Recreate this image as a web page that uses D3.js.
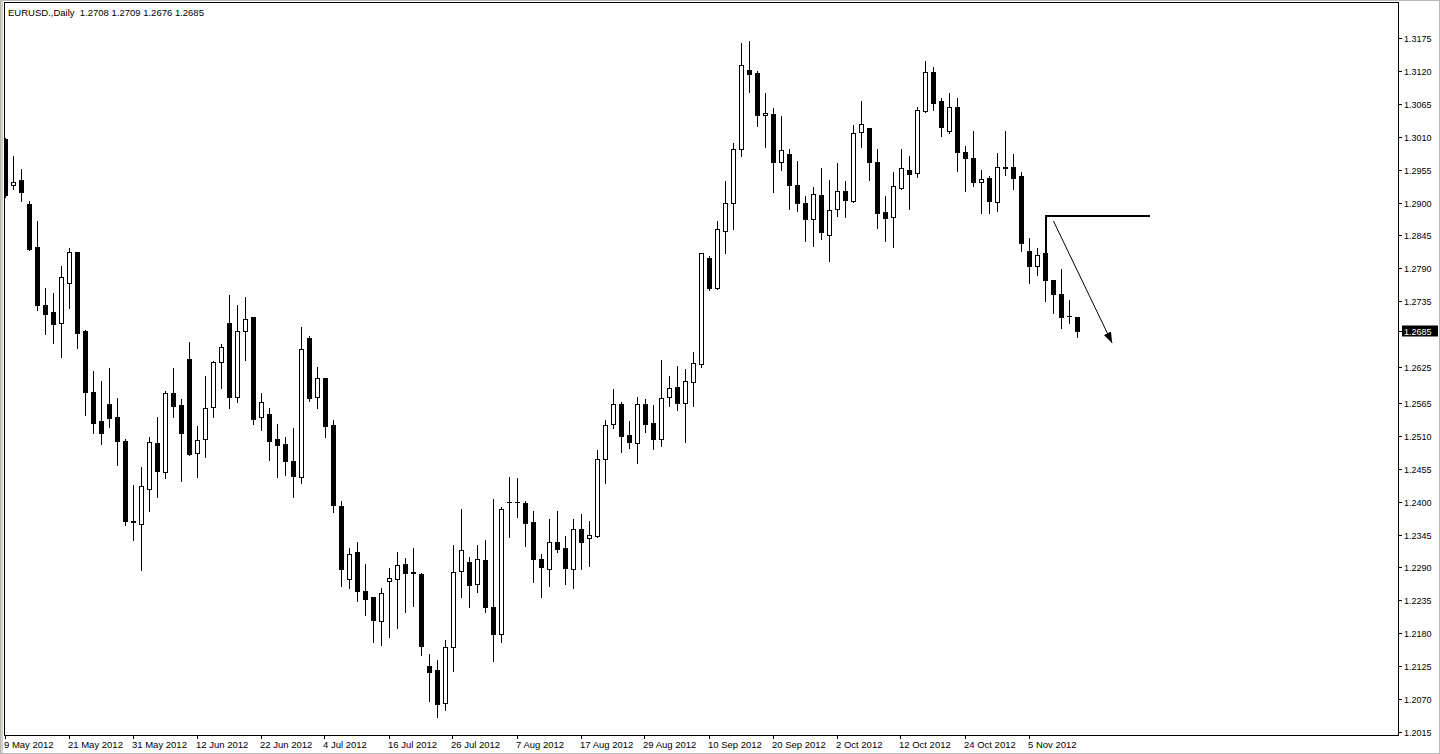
<!DOCTYPE html>
<html><head><meta charset="utf-8">
<script src="https://cdn.jsdelivr.net/npm/d3@7"></script>
<style>html,body{margin:0;padding:0;background:#fff;overflow:hidden}svg{display:block}</style>
</head><body>
<svg id="c" width="1440" height="754"></svg>
<script>
// ---------- data ----------
const titleText = "EURUSD.,Daily  1.2708 1.2709 1.2676 1.2685";
const opens = [1.3006,1.2929,1.2938,1.2898,1.2826,1.2729,1.2717,1.2698,1.2766,1.2817,
1.2686,1.2583,1.2535,1.2564,1.2542,1.2501,1.2367,1.2363,1.2421,1.2498,
1.2450,1.2581,1.2561,1.2638,1.2482,1.2504,1.2558,1.2633,1.2699,1.2575,
1.2685,1.2709,1.2541,1.2547,1.2505,1.2496,1.2468,1.2442,1.2674,1.2575,
1.2606,1.2528,1.2392,1.2271,1.2316,1.2251,1.2241,1.2201,1.2267,1.2271,
1.2296,1.2282,1.2279,1.2125,1.2119,1.2063,1.2157,1.2284,1.2299,1.2262,
1.2303,1.2224,1.2179,1.2400,1.2400,1.2397,1.2366,1.2304,1.2288,1.2332,
1.2322,1.2288,1.2354,1.2339,1.2343,1.2472,1.2529,1.2563,1.2511,1.2498,
1.2564,1.2531,1.2505,1.2575,1.2592,1.2565,1.2600,1.2630,1.2807,1.2757,
1.2852,1.2899,1.2989,1.3122,1.3117,1.3046,1.3048,1.2967,1.2981,1.2929,
1.2899,1.2872,1.2913,1.2845,1.2889,1.2919,1.2903,1.3018,1.3024,1.2968,
1.2884,1.2875,1.2925,1.2954,1.2949,1.3053,1.3118,1.3070,1.3020,1.3059,
1.2984,1.2974,1.2934,1.2941,1.2901,1.2959,1.2959,1.2944,1.2819,1.2794,
1.2816,1.2770,1.2747,1.2711,1.2708];
const highs = [1.3010,1.2979,1.2957,1.2904,1.2870,1.2759,1.2750,1.2796,1.2826,1.2819,
1.2689,1.2620,1.2603,1.2625,1.2575,1.2506,1.2429,1.2460,1.2510,1.2544,
1.2587,1.2625,1.2574,1.2669,1.2528,1.2612,1.2637,1.2666,1.2747,1.2730,
1.2744,1.2709,1.2584,1.2559,1.2531,1.2509,1.2525,1.2694,1.2679,1.2627,
1.2606,1.2538,1.2402,1.2325,1.2334,1.2298,1.2241,1.2258,1.2290,1.2318,
1.2308,1.2325,1.2283,1.2147,1.2137,1.2170,1.2330,1.2389,1.2310,1.2329,
1.2337,1.2406,1.2393,1.2443,1.2442,1.2403,1.2386,1.2315,1.2372,1.2386,
1.2344,1.2372,1.2381,1.2369,1.2488,1.2538,1.2590,1.2568,1.2536,1.2577,
1.2573,1.2563,1.2638,1.2612,1.2628,1.2624,1.2651,1.2818,1.2812,1.2871,
1.2938,1.3002,1.3169,1.3172,1.3122,1.3085,1.3060,1.3046,1.2991,1.2971,
1.2913,1.2928,1.2960,1.2939,1.2968,1.2938,1.3031,1.3071,1.3024,1.2991,
1.2913,1.2953,1.2991,1.2979,1.3061,1.3139,1.3128,1.3076,1.3084,1.3076,
1.2996,1.3022,1.2956,1.2946,1.2984,1.3021,1.2982,1.2952,1.2843,1.2826,
1.2816,1.2770,1.2790,1.2738,1.2709];
const lows = [1.2909,1.2923,1.2903,1.2821,1.2720,1.2680,1.2666,1.2641,1.2724,1.2657,
1.2545,1.2515,1.2496,1.2524,1.2461,1.2361,1.2336,1.2286,1.2385,1.2408,
1.2440,1.2541,1.2435,1.2478,1.2442,1.2474,1.2541,1.2590,1.2556,1.2567,
1.2637,1.2530,1.2519,1.2470,1.2441,1.2445,1.2407,1.2432,1.2569,1.2557,
1.2508,1.2383,1.2259,1.2255,1.2234,1.2211,1.2165,1.2160,1.2174,1.2188,
1.2216,1.2226,1.2144,1.2067,1.2040,1.2052,1.2117,1.2241,1.2224,1.2249,
1.2216,1.2133,1.2166,1.2341,1.2375,1.2326,1.2266,1.2241,1.2259,1.2316,
1.2263,1.2255,1.2288,1.2293,1.2341,1.2431,1.2523,1.2483,1.2489,1.2465,
1.2517,1.2488,1.2493,1.2560,1.2554,1.2500,1.2560,1.2625,1.2754,1.2755,
1.2815,1.2856,1.2978,1.3084,1.3028,1.2992,1.2918,1.2954,1.2890,1.2886,
1.2836,1.2828,1.2839,1.2803,1.2878,1.2876,1.2901,1.2993,1.2938,1.2858,
1.2835,1.2825,1.2922,1.2890,1.2942,1.3052,1.3055,1.3012,1.3016,1.2952,
1.2920,1.2928,1.2882,1.2883,1.2885,1.2946,1.2923,1.2819,1.2766,1.2779,
1.2736,1.2716,1.2690,1.2698,1.2676];
const closes = [1.2913,1.2935,1.2918,1.2822,1.2728,1.2714,1.2697,1.2776,1.2817,1.2682,
1.2584,1.2532,1.2514,1.2540,1.2502,1.2367,1.2366,1.2427,1.2499,1.2452,
1.2581,1.2560,1.2515,1.2480,1.2503,1.2556,1.2633,1.2658,1.2575,1.2685,
1.2706,1.2539,1.2566,1.2502,1.2494,1.2468,1.2443,1.2655,1.2574,1.2606,
1.2527,1.2394,1.2287,1.2313,1.2250,1.2238,1.2203,1.2247,1.2272,1.2294,
1.2281,1.2281,1.2159,1.2115,1.2061,1.2157,1.2282,1.2319,1.2260,1.2304,
1.2224,1.2179,1.2387,1.2399,1.2399,1.2364,1.2305,1.2290,1.2332,1.2321,
1.2289,1.2354,1.2332,1.2345,1.2471,1.2528,1.2564,1.2510,1.2499,1.2563,
1.2529,1.2505,1.2573,1.2590,1.2565,1.2601,1.2631,1.2816,1.2757,1.2856,
1.2899,1.2989,1.3130,1.3115,1.3047,1.3049,1.2968,1.2988,1.2930,1.2900,
1.2873,1.2914,1.2850,1.2887,1.2919,1.2905,1.3017,1.3031,1.2967,1.2883,
1.2874,1.2928,1.2958,1.2947,1.3055,1.3119,1.3066,1.3027,1.3060,1.2985,
1.2974,1.2934,1.2939,1.2903,1.2959,1.2958,1.2941,1.2833,1.2794,1.2813,
1.2770,1.2747,1.2709,1.2710,1.2685];
const dateLabels = ["9 May 2012","21 May 2012","31 May 2012","12 Jun 2012","22 Jun 2012","4 Jul 2012",
"16 Jul 2012","26 Jul 2012","7 Aug 2012","17 Aug 2012","29 Aug 2012","10 Sep 2012","20 Sep 2012",
"2 Oct 2012","12 Oct 2012","24 Oct 2012","5 Nov 2012"];
const barsPerDateLabel = 8;
const priceTicks = [1.3175,1.3120,1.3065,1.3010,1.2955,1.2900,1.2845,1.2790,1.2735,1.2625,1.2565,
1.2510,1.2455,1.2400,1.2345,1.2290,1.2235,1.2180,1.2125,1.2070,1.2015];
const currentPrice = 1.2685;
// hand-drawn objects on the chart (bar index, price)
const levelLine = [[130,1.2816],[130,1.2878],[143,1.2878]];
const arrowLine = [[131,1.2869],[138.33,1.2665]];

// ---------- drawing ----------
const svg = d3.select('#c');
const FONT = "'Liberation Sans', Arial, sans-serif";
const n = opens.length;
const frame = {l:4, t:2, r:1398, b:735};
const x = d3.scaleLinear().domain([0, n-1]).range([5.5, 5.5 + 8*(n-1)]);
const y = d3.scaleLinear().domain([1.2015, 1.3175]).range([732, 38]);
const py = v => Math.round(y(v)) + 0.5;

// outer window edge
svg.append('rect').attr('x',0.5).attr('y',0.5).attr('width',1439).attr('height',753)
  .attr('fill','#fff').attr('stroke','#b8b8b8');
svg.append('rect').attr('x',1).attr('y',1).attr('width',2).attr('height',752).attr('fill','#d4d0c8');

const defs = svg.append('defs');
defs.append('clipPath').attr('id','plotclip').append('rect')
  .attr('x',frame.l+1).attr('y',frame.t+1).attr('width',frame.r-frame.l-1).attr('height',frame.b-frame.t-1);
defs.append('marker').attr('id','arrowhead').attr('markerUnits','userSpaceOnUse')
  .attr('markerWidth',12).attr('markerHeight',10).attr('refX',11).attr('refY',4)
  .attr('orient','auto').append('path').attr('d','M0,0 L11,4 L0,8 Z').attr('fill','#000');

const plot = svg.append('g').attr('clip-path','url(#plotclip)');
const data = d3.range(n).map(i => ({i, o:opens[i], h:highs[i], l:lows[i], c:closes[i]}));

const g = plot.append('g').attr('shape-rendering','crispEdges');
g.selectAll('line.wick').data(data).join('line').attr('class','wick')
  .attr('x1',d=>x(d.i)).attr('x2',d=>x(d.i))
  .attr('y1',d=>py(d.h)).attr('y2',d=>py(d.l)+0.5)
  .attr('stroke','#000').attr('stroke-width',1);
g.selectAll('rect.body').data(data).join('rect').attr('class','body')
  .attr('x',d=>x(d.i)-2).attr('width',4)
  .attr('y',d=>py(Math.max(d.o,d.c)))
  .attr('height',d=>Math.max(0.01, Math.round(y(Math.min(d.o,d.c))) - Math.round(y(Math.max(d.o,d.c)))))
  .attr('fill',d=>d.c>d.o ? '#fff' : '#000')
  .attr('stroke','#000').attr('stroke-width',1);

// drawn objects
const lineGen = d3.line().x(d=>x(d[0])).y(d=>y(d[1]));
plot.append('path').attr('d',lineGen(levelLine)).attr('fill','none')
  .attr('stroke','#000').attr('stroke-width',2).attr('shape-rendering','crispEdges');
plot.append('path').attr('d',lineGen(arrowLine)).attr('fill','none')
  .attr('stroke','#000').attr('stroke-width',1).attr('marker-end','url(#arrowhead)');

// chart frame
svg.append('rect').attr('x',frame.l+0.5).attr('y',frame.t+0.5)
  .attr('width',frame.r-frame.l).attr('height',frame.b-frame.t)
  .attr('fill','none').attr('stroke','#000').attr('shape-rendering','crispEdges');

// title
svg.append('text').attr('x',8).attr('y',16).attr('font-family',FONT).attr('font-size',9.5)
  .attr('fill','#000').attr('xml:space','preserve').style('white-space','pre').text(titleText);

// price axis
const ya = svg.append('g').attr('font-family',FONT).attr('font-size',9);
priceTicks.forEach(v => {
  const yy = py(v);
  ya.append('line').attr('x1',frame.r+1).attr('x2',frame.r+4).attr('y1',yy).attr('y2',yy)
    .attr('stroke','#000').attr('shape-rendering','crispEdges');
  ya.append('text').attr('x',frame.r+6).attr('y',yy+3.5).attr('fill','#000').text(v.toFixed(4));
});
{
  const yy = py(currentPrice);
  ya.append('line').attr('x1',frame.r+1).attr('x2',frame.r+4).attr('y1',yy).attr('y2',yy)
    .attr('stroke','#000').attr('shape-rendering','crispEdges');
  ya.append('rect').attr('x',frame.r+4).attr('y',yy-6).attr('width',36).attr('height',11).attr('fill','#000');
  ya.append('text').attr('x',frame.r+6).attr('y',yy+3.5).attr('fill','#fff').text(currentPrice.toFixed(4));
}

// date axis
const xa = svg.append('g').attr('font-family',FONT).attr('font-size',9.5);
dateLabels.forEach((lab,k) => {
  const col = Math.round(x(k*barsPerDateLabel));
  xa.append('line').attr('x1',col-0.5).attr('x2',col-0.5).attr('y1',frame.b+1).attr('y2',frame.b+4)
    .attr('stroke','#000').attr('shape-rendering','crispEdges');
  xa.append('text').attr('x',col-2).attr('y',frame.b+13).attr('fill','#000').text(lab);
});
</script>
</body></html>
